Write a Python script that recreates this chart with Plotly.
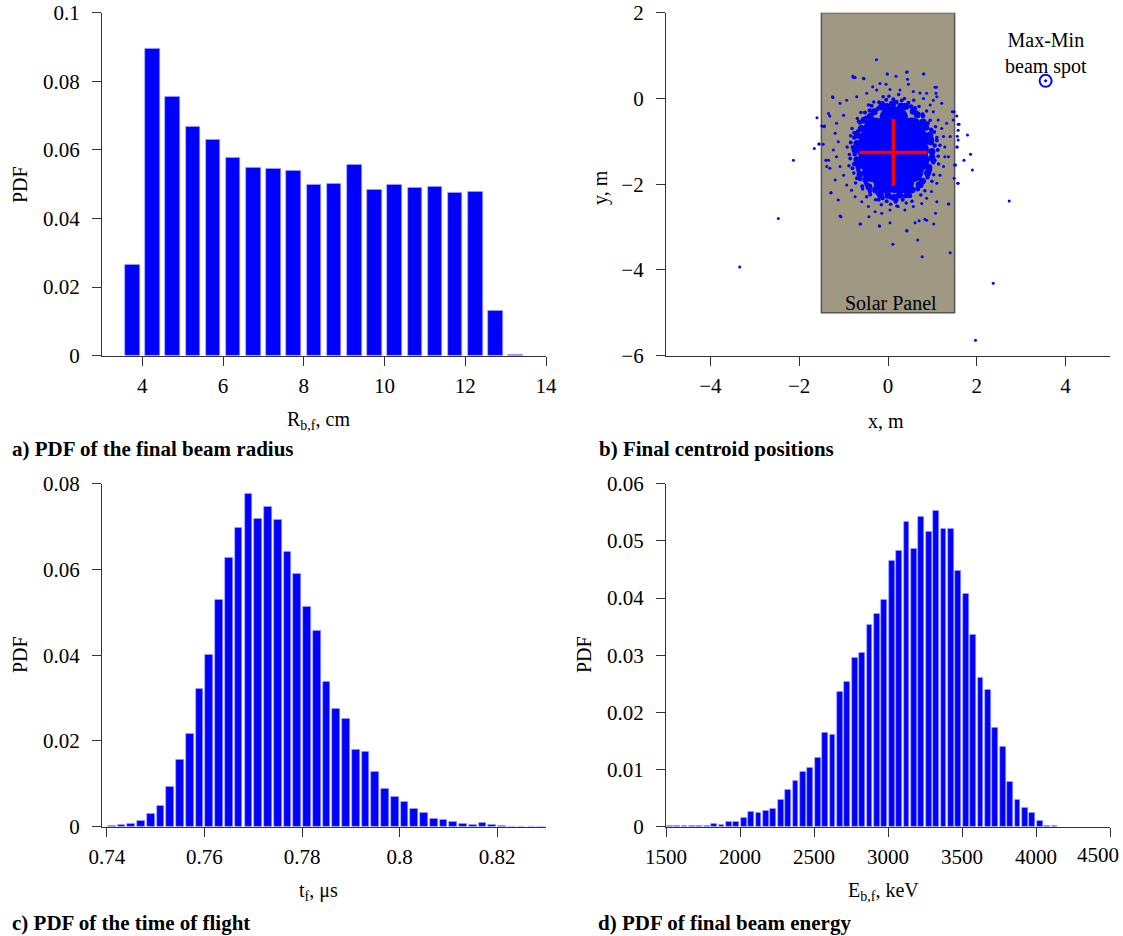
import plotly.graph_objects as go

# ---------------- data ----------------
# a) PDF of final beam radius (bin width 0.5 cm)
radius_cm = [3.75, 4.25, 4.75, 5.25, 5.75, 6.25, 6.75, 7.25, 7.75, 8.25,
             8.75, 9.25, 9.75, 10.25, 10.75, 11.25, 11.75, 12.25, 12.75, 13.25]
radius_pdf = [0.0264, 0.0895, 0.0754, 0.0667, 0.0629, 0.0576, 0.0549, 0.0545, 0.0538, 0.0500,
              0.0502, 0.0557, 0.0485, 0.0498, 0.0489, 0.0493, 0.0476, 0.0477, 0.0132, 0.0004]

# c) PDF of time of flight (bin width 0.002 us)
tof_us = [0.741, 0.743, 0.745, 0.747, 0.749, 0.751, 0.753, 0.755, 0.757, 0.759,
          0.761, 0.763, 0.765, 0.767, 0.769, 0.771, 0.773, 0.775, 0.777, 0.779,
          0.781, 0.783, 0.785, 0.787, 0.789, 0.791, 0.793, 0.795, 0.797, 0.799,
          0.801, 0.803, 0.805, 0.807, 0.809, 0.811, 0.813, 0.815, 0.817, 0.819,
          0.821, 0.823, 0.825, 0.827, 0.829]
tof_pdf = [0.0002, 0.0004, 0.0008, 0.0015, 0.0030, 0.0050, 0.0093, 0.0156, 0.0217, 0.0323,
           0.0402, 0.0530, 0.0627, 0.0697, 0.0776, 0.0718, 0.0746, 0.0717, 0.0642, 0.0590,
           0.0513, 0.0456, 0.0339, 0.0276, 0.0252, 0.0180, 0.0174, 0.0129, 0.0088, 0.0069,
           0.0058, 0.0043, 0.0032, 0.0019, 0.0017, 0.0011, 0.0006, 0.0005, 0.0009, 0.0004,
           0.0002, 0.0001, 0.0001, 0.0001, 0.0001]

# d) PDF of final beam energy (bin width 50 keV)
energy_kev = [1525, 1575, 1625, 1675, 1725, 1775, 1825, 1875, 1925, 1975,
              2025, 2075, 2125, 2175, 2225, 2275, 2325, 2375, 2425, 2475,
              2525, 2575, 2625, 2675, 2725, 2775, 2825, 2875, 2925, 2975,
              3025, 3075, 3125, 3175, 3225, 3275, 3325, 3375, 3425, 3475,
              3525, 3575, 3625, 3675, 3725, 3775, 3825, 3875, 3925, 3975,
              4025, 4075, 4125]
energy_pdf = [0.0001, 0.0001, 0.0001, 0.0001, 0.0002, 0.0002, 0.0006, 0.0004, 0.0009, 0.0009,
              0.0015, 0.0027, 0.0025, 0.0028, 0.0031, 0.0048, 0.0064, 0.0081, 0.0097, 0.0104,
              0.0120, 0.0164, 0.0161, 0.0236, 0.0254, 0.0296, 0.0304, 0.0354, 0.0372, 0.0397,
              0.0465, 0.0483, 0.0533, 0.0486, 0.0542, 0.0516, 0.0553, 0.0522, 0.0522, 0.0447,
              0.0407, 0.0335, 0.0260, 0.0240, 0.0173, 0.0140, 0.0079, 0.0048, 0.0034, 0.0024,
              0.0010, 0.0002, 0.0002]

# b) final centroid positions (m):
# densest core (drawn with large dots), speckled shells, and sparse outliers
core_x = [0.06, 0.20,
          -0.30, -0.02, 0.26, 0.54,
          -0.41, -0.14, 0.13, 0.40, 0.67,
          -0.45, -0.17, 0.11, 0.39, 0.67,
          -0.42, -0.14, 0.14, 0.42, 0.68,
          -0.33, -0.05, 0.23, 0.55,
          -0.08, 0.15, 0.34]
core_y = [-0.45, -0.45,
          -0.70, -0.70, -0.70, -0.70,
          -0.95, -0.95, -0.95, -0.95, -0.95,
          -1.20, -1.20, -1.20, -1.20, -1.20,
          -1.45, -1.45, -1.45, -1.45, -1.45,
          -1.70, -1.70, -1.70, -1.70,
          -1.95, -1.95, -1.95]

shell1_x = [0.99, 0.96, 0.94, 0.85, 0.79, 0.66, 0.57, 0.40, 0.29, 0.11, -0.03, -0.15, -0.31, -0.40,
            -0.54, -0.60, -0.69, -0.70, -0.74, -0.70, -0.66, -0.63, -0.50, -0.43, -0.28, -0.17, 0.00,
            0.14, 0.26, 0.44, 0.54, 0.70, 0.77, 0.89, 0.92, 0.99]
shell1_y = [-1.24, -1.01, -0.86, -0.67, -0.55, -0.38, -0.30, -0.19, -0.18, -0.13, -0.19, -0.20, -0.31, -0.42,
            -0.51, -0.70, -0.86, -1.05, -1.20, -1.43, -1.57, -1.77, -1.89, -2.06, -2.13, -2.25, -2.26,
            -2.31, -2.25, -2.24, -2.13, -2.02, -1.93, -1.74, -1.61, -1.39]

shell2_x = [1.05, 0.99, 0.97, 0.85, 0.79, 0.63, 0.52, 0.37, 0.19, 0.07, -0.12, -0.23, -0.41, -0.49,
            -0.63, -0.68, -0.76, -0.79, -0.75, -0.76, -0.67, -0.63, -0.49, -0.41, -0.23, -0.12, 0.07,
            0.19, 0.38, 0.49, 0.67, 0.75, 0.89, 0.93, 1.02, 1.01]
shell2_y = [-1.10, -0.95, -0.73, -0.60, -0.41, -0.32, -0.19, -0.16, -0.08, -0.12, -0.11, -0.24, -0.28, -0.45,
            -0.56, -0.77, -0.91, -1.14, -1.30, -1.53, -1.67, -1.88, -1.99, -2.16, -2.21, -2.32, -2.31,
            -2.36, -2.28, -2.25, -2.12, -2.03, -1.84, -1.71, -1.49, -1.34]

shell3_x = [1.17, 1.10, 1.07, 0.95, 0.87, 0.70, 0.58, 0.37, 0.24, 0.02, -0.11, -0.32, -0.44, -0.61,
            -0.69, -0.81, -0.84, -0.92, -0.87, -0.88, -0.77, -0.73, -0.57, -0.48, -0.28, -0.15, 0.06,
            0.20, 0.41, 0.54, 0.74, 0.83, 0.99, 1.03, 1.14, 1.13]
shell3_y = [-1.09, -0.91, -0.66, -0.51, -0.29, -0.19, -0.04, 0.00, 0.09, 0.05, 0.04, -0.08, -0.15, -0.33,
            -0.47, -0.70, -0.87, -1.13, -1.31, -1.57, -1.74, -1.97, -2.11, -2.29, -2.36, -2.48, -2.47,
            -2.51, -2.44, -2.40, -2.25, -2.15, -1.93, -1.78, -1.53, -1.35]

shell4_x = [1.10, 1.04, 0.90, 0.78, 0.61, 0.46, 0.31, 0.12, -0.04, -0.20, -0.37, -0.52, -0.66, -0.76,
            -0.84, -0.85, -0.80, -0.70, -0.58, -0.40, -0.21, -0.03, 0.17, 0.33, 0.50, 0.66, 0.81, 0.95,
            1.05, 1.12]
shell4_y = [-0.98, -0.78, -0.57, -0.37, -0.22, -0.10, -0.05, -0.02, -0.03, -0.09, -0.17, -0.33, -0.54, -0.80,
            -1.03, -1.40, -1.63, -1.86, -2.05, -2.24, -2.36, -2.40, -2.41, -2.36, -2.28, -2.10, -1.92, -1.67,
            -1.45, -1.20]

dots_x = [-3.34, -2.47, -2.13, -1.66, -1.60, -1.56, -1.43, -1.34, -1.24, -1.06, -0.62, -0.26,
          -0.19, -0.02, 0.11, 0.43, 0.43, 0.67, 0.77, 0.81, 1.09, 1.40, 1.37, 1.49, 1.55, 1.60,
          1.58, 1.56, 1.50, 1.58, 1.79, 1.71, 1.86, 1.90, 2.73, 2.37, 1.97, -0.74, -0.54, -0.79,
          1.03, 0.87, -0.43, 1.07, 0.70, -1.12, -1.28, -1.38, -1.40,
          -0.78, -0.555, -0.015, 0.18, 0.42, 0.80, -0.345, -0.18, -0.045, 0.44, 0.46, 1.06, 1.08,
          -1.25, -1.49, -1.44, -1.31, -1.55, -1.46, -1.34, -1.31, -1.19, -1.29, -1.08, -0.63,
          -0.195, 0.045, 0.42, 0.61, 0.83, 1.10, 1.36, 1.45, 1.47, 1.58, 1.58, 1.56, 1.55, 1.52,
          1.57, 1.49, 1.32, 1.40, 1.36, 1.21, 1.10, 1.02, 0.87, 0.72,
          -0.93, -1.08, -1.00, -1.16, -1.19, -1.12, -1.23, -1.16, -1.08, -1.00,
          -0.93, -0.82, -0.74, -0.59, -0.44, -0.29, -0.14, 0.045, 0.23, 0.38, 0.57, 0.76, 0.87, 0.98,
          1.10, 1.17, 1.25, 1.28, 1.28, 1.25, 1.21, 1.13, 1.02, 0.95,
          -0.705, -0.48, -0.255, 0.045, 0.27, 0.57, 0.80]
dots_y = [-3.93, -2.80, -1.44, -1.17, -0.45, -1.06, -0.64, -0.35, 0.02, -2.76, -2.93, 0.90,
          -2.98, 0.57, -3.40, -3.09, 0.62, -3.30, -3.69, 0.57, 0.26, -3.60, -2.46, -0.31, -0.41, -0.60,
          -0.97, -1.13, -1.55, -1.98, -0.85, -1.44, -1.30, -1.67, -2.39, -4.31, -5.64, 0.49, 0.46, 0.52,
          -2.93, -2.84, -2.76, -2.68, -2.85, -2.37, -2.20, -1.59, -1.44,
          0.49, 0.47, 0.57, 0.52, 0.61, 0.57, 0.27, 0.35, 0.33, 0.45, 0.33, 0.26, 0.12,
          0.04, -0.64, -0.66, -0.41, -1.06, -1.07, -1.44, -1.63, -1.90, -2.20, -2.74, -2.93,
          -2.97, -2.90, -3.08, -2.90, -2.82, -2.41, -2.46, -0.31, -0.50, -0.60, -0.74, -0.88, -1.13, -1.55,
          -1.98, -1.86, -0.58, -0.89, -1.36, -0.11, 0.04, -0.04, 0.12, 0.13,
          -0.04, -0.11, -0.39, -0.58, -0.81, -1.01, -1.20, -1.36, -1.59, -1.79,
          -2.02, -2.14, -2.29, -2.41, -2.52, -2.64, -2.68, -2.60, -2.52, -2.60, -2.52, -2.45, -2.33, -2.17,
          -1.98, -1.79, -1.59, -1.36, -1.13, -0.89, -0.70, -0.50, -0.31, -0.15,
          0.04, 0.12, 0.20, 0.21, 0.20, 0.16, 0.00]

centroid_mean = (0.12, -1.26)
centroid_std = (0.765, 0.78)
beam_spot = (3.55, 0.41)
panel = dict(x0=-1.5, x1=1.5, y0=-5.0, y1=2.0)

# tick labels
a_xticks = [4, 6, 8, 10, 12, 14]
a_yticks = [0, 0.02, 0.04, 0.06, 0.08, 0.1]
a_ytext = ["0", "0.02", "0.04", "0.06", "0.08", "0.1"]
b_xticks = [-4, -2, 0, 2, 4]
b_yticks = [-6, -4, -2, 0, 2]
c_xticks = [0.74, 0.76, 0.78, 0.80, 0.82]
c_xtext = ["0.74", "0.76", "0.78", "0.8", "0.82"]
c_yticks = [0, 0.02, 0.04, 0.06, 0.08]
c_ytext = ["0", "0.02", "0.04", "0.06", "0.08"]
d_xticks = [1500, 2000, 2500, 3000, 3500, 4000, 4500]
d_xtext = ["1500", "2000", "2500", "3000", "3500", "4000", ""]   # last label placed separately
d_yticks = [0, 0.01, 0.02, 0.03, 0.04, 0.05, 0.06]
d_ytext = ["0", "0.01", "0.02", "0.03", "0.04", "0.05", "0.06"]

# ---------------- figure ----------------
W, H = 1123, 936
BLUE = "#0000ff"
EDGE = "#a8a8ff"
FONT = "Liberation Serif, Times New Roman, serif"
TICK_FS = 21

fig = go.Figure()
fig.add_trace(go.Bar(x=radius_cm, y=radius_pdf, width=0.36, marker=dict(color=BLUE, line=dict(color=EDGE, width=0.6)),
                     xaxis="x", yaxis="y"))
fig.add_trace(go.Scatter(x=shell3_x, y=shell3_y, mode="markers", marker=dict(color=BLUE, size=3.5, line_width=0),
                         xaxis="x2", yaxis="y2"))
fig.add_trace(go.Scatter(x=shell4_x, y=shell4_y, mode="markers", marker=dict(color=BLUE, size=4, line_width=0),
                         xaxis="x2", yaxis="y2"))
fig.add_trace(go.Scatter(x=shell2_x, y=shell2_y, mode="markers", marker=dict(color=BLUE, size=4.5, line_width=0),
                         xaxis="x2", yaxis="y2"))
fig.add_trace(go.Scatter(x=shell1_x, y=shell1_y, mode="markers", marker=dict(color=BLUE, size=7, line_width=0),
                         xaxis="x2", yaxis="y2"))
fig.add_trace(go.Scatter(x=core_x, y=core_y, mode="markers", marker=dict(color=BLUE, size=22, line_width=0),
                         xaxis="x2", yaxis="y2"))
fig.add_trace(go.Scatter(x=dots_x, y=dots_y, mode="markers", marker=dict(color=BLUE, size=3, line_width=0),
                         xaxis="x2", yaxis="y2"))
fig.add_trace(go.Scatter(x=[centroid_mean[0]], y=[centroid_mean[1]], mode="markers",
                         marker=dict(size=1, color="red"),
                         error_x=dict(type="data", array=[centroid_std[0]], color="red", thickness=3.5, width=0),
                         error_y=dict(type="data", array=[centroid_std[1]], color="red", thickness=3.5, width=0),
                         xaxis="x2", yaxis="y2"))
fig.add_trace(go.Scatter(x=[beam_spot[0]], y=[beam_spot[1]], mode="markers",
                         marker=dict(symbol="circle-open-dot", size=12, color=BLUE, line=dict(width=2, color=BLUE)),
                         xaxis="x2", yaxis="y2"))
fig.add_trace(go.Bar(x=tof_us, y=tof_pdf, width=0.00158, marker=dict(color=BLUE, line=dict(color=EDGE, width=0.6)),
                     xaxis="x3", yaxis="y3"))
fig.add_trace(go.Bar(x=energy_kev, y=energy_pdf, width=40, marker=dict(color=BLUE, line=dict(color=EDGE, width=0.6)),
                     xaxis="x4", yaxis="y4"))

colL = [102 / W, 546 / W]
colR = [666 / W, 1110 / W]
rowT = [1 - 355.7 / H, 1 - 12.7 / H]
rowB = [1 - 826.7 / H, 1 - 483.7 / H]

ax = dict(showline=True, linecolor="#333333", linewidth=1.3, ticks="outside", ticklen=9, tickwidth=1.3,
          tickcolor="#333333", showgrid=False, zeroline=False, automargin=False,
          tickfont=dict(family=FONT, size=TICK_FS, color="black"))
xa = dict(ax, ticklabelstandoff=2)
ya = dict(ax, ticklabelstandoff=8)

fig.update_layout(
    width=W, height=H, margin=dict(l=0, r=0, t=0, b=0, pad=0, autoexpand=False), autosize=False,
    plot_bgcolor="white", paper_bgcolor="white", showlegend=False, bargap=0,
    font=dict(family=FONT, size=20, color="black"),
    xaxis=dict(xa, domain=colL, anchor="y", range=[3, 14], tickvals=a_xticks),
    yaxis=dict(ya, domain=rowT, anchor="x", range=[0, 0.1], tickvals=a_yticks, ticktext=a_ytext),
    xaxis2=dict(xa, domain=colR, anchor="y2", range=[-5, 5], tickvals=b_xticks),
    yaxis2=dict(ya, domain=rowT, anchor="x2", range=[-6, 2], tickvals=b_yticks),
    xaxis3=dict(xa, domain=colL, anchor="y3", range=[0.739, 0.830], tickvals=c_xticks, ticktext=c_xtext),
    yaxis3=dict(ya, domain=rowB, anchor="x3", range=[0, 0.08], tickvals=c_yticks, ticktext=c_ytext),
    xaxis4=dict(xa, domain=colR, anchor="y4", range=[1500, 4500], tickvals=d_xticks, ticktext=d_xtext),
    yaxis4=dict(ya, domain=rowB, anchor="x4", range=[0, 0.06], tickvals=d_yticks, ticktext=d_ytext),
)

fig.add_shape(type="rect", xref="x2", yref="y2", layer="below",
              fillcolor="#9f9883", line=dict(color="#555555", width=1.5), **panel)


def note(text, xpx, ypx, size=20, angle=0, xanchor="center", bold=False):
    fig.add_annotation(text=f"<b>{text}</b>" if bold else text, xref="paper", yref="paper",
                       x=xpx / W, y=1 - ypx / H, showarrow=False, textangle=angle,
                       xanchor=xanchor, yanchor="middle", font=dict(family=FONT, size=size, color="black"))


note("PDF", 20, 185, angle=-90)
note("PDF", 20, 655, angle=-90)
note("y, m", 601, 188, angle=-90)
note("PDF", 584, 655, angle=-90)
note("R<sub>b,f</sub>, cm", 318, 421)
note("x, m", 886, 421)
note("t<sub>f</sub>, μs", 318, 891)
note("E<sub>b,f</sub>, keV", 883, 891)
note("a) PDF of the final beam radius", 10, 449, size=21, xanchor="left", bold=True)
note("b) Final centroid positions", 597, 449, size=21, xanchor="left", bold=True)
note("c) PDF of the time of flight", 10, 923, size=21, xanchor="left", bold=True)
note("d) PDF of final beam energy", 596, 923, size=21, xanchor="left", bold=True)
# last energy tick label, kept inside the page as in the original
fig.add_annotation(text=str(d_xticks[-1]), xref="paper", yref="paper", x=1121 / W, y=1 - 855 / H,
                   showarrow=False, xanchor="right", yanchor="middle",
                   font=dict(family=FONT, size=TICK_FS, color="black"))

fig.add_annotation(text="Max-Min<br>beam spot", xref="x2", yref="y2", x=beam_spot[0], y=1.05,
                   showarrow=False, yanchor="middle", font=dict(family=FONT, size=20, color="black"))
fig.add_annotation(text="Solar Panel", xref="x2", yref="y2", x=0.07, y=-4.78,
                   showarrow=False, yanchor="middle", font=dict(family=FONT, size=20, color="black"))

fig.write_html("out.html")
